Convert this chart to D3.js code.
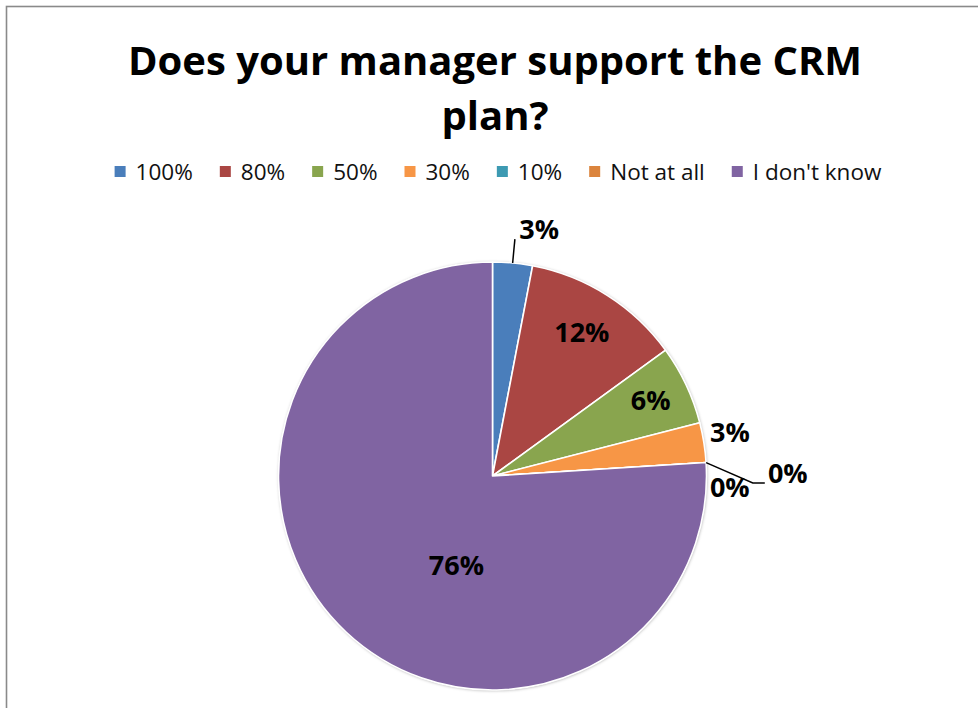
<!DOCTYPE html>
<html>
<head>
<meta charset="utf-8">
<script src="https://cdn.jsdelivr.net/npm/d3@7"></script>
<style>
  html, body { margin: 0; padding: 0; background: #fff; }
  svg { display: block; }
</style>
</head>
<body>
<svg id="chart" width="978" height="708"></svg>
<script>
// Survey answers and their share of responses (percent)
const categories = ["100%", "80%", "50%", "30%", "10%", "Not at all", "I don't know"];
const values = [3, 12, 6, 3, 0, 0, 76];
const colors = ["#4A7EBB", "#AA4643", "#89A54E", "#F79646", "#3D9AB2", "#DB843D", "#8064A2"];
const titleLines = ["Does your manager support the CRM", "plan?"];

const W = 978, H = 708;
const svg = d3.select("#chart");
const font = "'Open Sans', 'DejaVu Sans', sans-serif";

// Chart frame
svg.append("rect")
  .attr("x", 6.5).attr("y", 6.5)
  .attr("width", W + 20).attr("height", H + 20)
  .attr("fill", "#fff")
  .attr("stroke", "#8a8a8a")
  .attr("stroke-width", 1.6);

// Title
const cx = 495;
svg.append("text")
  .attr("x", cx).attr("y", 75)
  .attr("text-anchor", "middle")
  .style("font-family", font).style("font-weight", 700).style("font-size", "40px")
  .selectAll("tspan").data(titleLines).join("tspan")
  .attr("x", cx).attr("dy", (d, i) => i === 0 ? 0 : 55)
  .text(d => d);

// Legend, laid out left to right and centred
const legend = svg.append("g");
const items = legend.selectAll("g").data(categories).join("g");
items.append("rect").attr("width", 11).attr("height", 11).attr("y", -6)
  .attr("fill", (d, i) => colors[i]);
items.append("text").attr("x", 21).attr("dy", "0.35em")
  .style("font-family", font).style("font-size", "22.5px").attr("fill", "#111")
  .text(d => d);
let xpos = 0;
items.each(function () {
  const g = d3.select(this);
  g.attr("transform", `translate(${xpos},0)`);
  xpos += 21 + g.select("text").node().getComputedTextLength() + 27;
});
const legendW = xpos - 27;
legend.attr("transform", `translate(${498 - legendW / 2},172)`);

// Pie
const pcx = 492.5, pcy = 476, R = 214;
const defs = svg.append("defs");
const f = defs.append("filter").attr("id", "soft").attr("x", "-10%").attr("y", "-10%")
  .attr("width", "120%").attr("height", "120%");
f.append("feDropShadow").attr("dx", 0.5).attr("dy", 0.5).attr("stdDeviation", 1.6)
  .attr("flood-color", "#000").attr("flood-opacity", 0.35);

const pie = d3.pie().sort(null).value(d => d)(values);
const arc = d3.arc().innerRadius(0).outerRadius(R);
const g = svg.append("g").attr("transform", `translate(${pcx},${pcy})`);

g.append("circle").attr("r", R).attr("fill", "#fff").attr("filter", "url(#soft)");
g.selectAll("path.slice").data(pie).join("path")
  .attr("class", "slice")
  .attr("d", arc)
  .attr("fill", (d, i) => colors[i])
  .attr("stroke", "#fff")
  .attr("stroke-width", 1.6)
  .attr("stroke-linejoin", "round");

// Label placement: angle (deg, clockwise from 12 o'clock) and radius as a fraction of R
const labelPlacement = [
  { a: 10.7, r: 1.174, leader: "radial" },
  { a: 31.9, r: 0.79 },
  { a: 64.4, r: 0.82 },
  { a: 79.6, r: 1.128 },
  { a: 89.4, r: 1.38, leader: "elbow" },
  { a: 92.6, r: 1.11 },
  { a: 202, r: 0.45 }
];
const polar = (deg, rad) => {
  const t = deg * Math.PI / 180;
  return [rad * Math.sin(t), -rad * Math.cos(t)];
};

pie.forEach((d, i) => {
  const p = labelPlacement[i];
  const [lx, ly] = polar(p.a, p.r * R);
  const mid = (d.startAngle + d.endAngle) / 2 * 180 / Math.PI;
  if (p.leader === "radial") {
    const a = polar(mid, R), b = polar(mid, R * 1.112);
    g.append("path").attr("d", d3.line()([a, b]))
      .attr("stroke", "#000").attr("stroke-width", 1.5).attr("fill", "none");
  } else if (p.leader === "elbow") {
    const a = polar(mid, R);
    const pts = [a, [lx - 35, ly + 10], [lx - 23, ly + 10]];
    g.append("path").attr("d", d3.line()(pts))
      .attr("stroke", "#000").attr("stroke-width", 1.5).attr("fill", "none");
  }
  g.append("text")
    .attr("x", lx).attr("y", ly).attr("dy", "0.36em")
    .attr("text-anchor", "middle")
    .style("font-family", font).style("font-weight", 700).style("font-size", "27px")
    .attr("fill", "#000")
    .text(Math.round(values[i]) + "%");
});
</script>
</body>
</html>
